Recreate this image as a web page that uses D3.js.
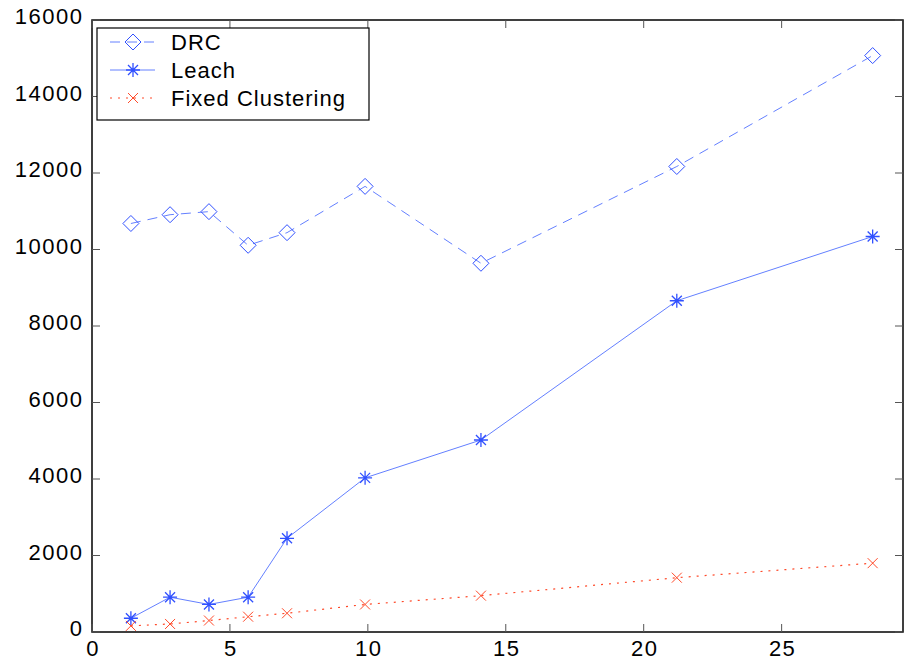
<!DOCTYPE html>
<html>
<head>
<meta charset="utf-8">
<script src="https://cdn.jsdelivr.net/npm/d3@7"></script>
<style>
  body { margin: 0; background: #fff; }
  text { font-family: "Liberation Sans", Arial, sans-serif; }
</style>
</head>
<body>
<div id="chart"></div>
<script>
const xVals = [1.41, 2.83, 4.24, 5.66, 7.07, 9.9, 14.1, 21.2, 28.3];
const drc = [10680, 10910, 10990, 10110, 10440, 11650, 9640, 12170, 15070];
const leach = [360, 910, 720, 910, 2450, 4030, 5020, 8660, 10340];
const fixedCl = [160, 210, 300, 400, 490, 720, 950, 1420, 1800];
const xTicks = [0, 5, 10, 15, 20, 25];
const yTicks = [0, 2000, 4000, 6000, 8000, 10000, 12000, 14000, 16000];
const seriesNames = ["DRC", "Leach", "Fixed Clustering"];

const W = 909, H = 661;
const mLeft = 92, mRight = 903, mTop = 20, mBottom = 632;

const svg = d3.select("#chart").append("svg")
    .attr("width", W).attr("height", H);

const x = d3.scaleLinear().domain([0, 29.4]).range([mLeft, mRight]);
const y = d3.scaleLinear().domain([0, 16000]).range([mBottom, mTop]);

const blueLine = "#6480ff", blueMark = "#3050ff", red = "#ff4a2a";

// lines
const line = d3.line().x((d, i) => x(xVals[i])).y(d => y(d));

svg.append("path").datum(drc).attr("d", line)
    .attr("fill", "none").attr("stroke", blueLine).attr("stroke-width", 1)
    .attr("stroke-dasharray", "10,7");
svg.append("path").datum(leach).attr("d", line)
    .attr("fill", "none").attr("stroke", blueLine).attr("stroke-width", 1);
svg.append("path").datum(fixedCl).attr("d", line)
    .attr("fill", "none").attr("stroke", red).attr("stroke-width", 1.2)
    .attr("stroke-dasharray", "2,6");

// markers
function diamond(g, cx, cy) {
    g.append("path")
        .attr("d", `M${cx},${cy - 8}L${cx + 8},${cy}L${cx},${cy + 8}L${cx - 8},${cy}Z`)
        .attr("fill", "none").attr("stroke", blueMark).attr("stroke-width", 1);
}
function star(g, cx, cy) {
    const r = 7, s = 5;
    g.append("path")
        .attr("d", `M${cx - r},${cy}H${cx + r}M${cx},${cy - r}V${cy + r}` +
            `M${cx - s},${cy - s}L${cx + s},${cy + s}M${cx - s},${cy + s}L${cx + s},${cy - s}`)
        .attr("stroke", blueMark).attr("stroke-width", 1.3).attr("fill", "none");
}
function cross(g, cx, cy) {
    const s = 5;
    g.append("path")
        .attr("d", `M${cx - s},${cy - s}L${cx + s},${cy + s}M${cx - s},${cy + s}L${cx + s},${cy - s}`)
        .attr("stroke", red).attr("stroke-width", 1).attr("fill", "none");
}

const marks = svg.append("g");
drc.forEach((d, i) => diamond(marks, x(xVals[i]), y(d)));
leach.forEach((d, i) => star(marks, x(xVals[i]), y(d)));
fixedCl.forEach((d, i) => cross(marks, x(xVals[i]), y(d)));

// axes frame
const frame = svg.append("g");
frame.append("rect")
    .attr("x", mLeft).attr("y", mTop).attr("width", mRight - mLeft).attr("height", mBottom - mTop)
    .attr("fill", "none").attr("stroke", "#000").attr("stroke-width", 1.5);

const tickLen = 8;
xTicks.forEach(t => {
    frame.append("line").attr("x1", x(t)).attr("x2", x(t))
        .attr("y1", mBottom).attr("y2", mBottom - tickLen).attr("stroke", "#555");
    frame.append("line").attr("x1", x(t)).attr("x2", x(t))
        .attr("y1", mTop).attr("y2", mTop + tickLen).attr("stroke", "#555");
    frame.append("text").attr("x", x(t) + 1).attr("y", mBottom + 24)
        .attr("text-anchor", "middle").attr("font-size", 22)
        .attr("letter-spacing", 1.5).text(t);
});
yTicks.forEach(t => {
    frame.append("line").attr("x1", mLeft).attr("x2", mLeft + tickLen)
        .attr("y1", y(t)).attr("y2", y(t)).attr("stroke", "#555");
    frame.append("line").attr("x1", mRight).attr("x2", mRight - tickLen)
        .attr("y1", y(t)).attr("y2", y(t)).attr("stroke", "#555");
    frame.append("text").attr("x", mLeft - 8.5).attr("y", y(t) + 4)
        .attr("text-anchor", "end").attr("font-size", 22)
        .attr("letter-spacing", 1.5).text(t);
});

// legend
const legend = svg.append("g");
legend.append("rect").attr("x", 97).attr("y", 28).attr("width", 272).attr("height", 92)
    .attr("fill", "#fff").attr("stroke", "#000").attr("stroke-width", 1.2);

const rowY = [42, 70, 98];
const dashes = ["10,7", null, "2,6"];
const colors = [blueLine, blueLine, red];
seriesNames.forEach((name, i) => {
    const ly = rowY[i];
    legend.append("line").attr("x1", 110).attr("x2", 155).attr("y1", ly).attr("y2", ly)
        .attr("stroke", colors[i]).attr("stroke-width", 1)
        .attr("stroke-dasharray", dashes[i]);
    if (i === 0) diamond(legend, 133, ly);
    if (i === 1) star(legend, 133, ly);
    if (i === 2) cross(legend, 133, ly);
    legend.append("text").attr("x", 171).attr("y", ly + 8)
        .attr("font-size", 22).attr("letter-spacing", 1).text(name);
});
</script>
</body>
</html>
